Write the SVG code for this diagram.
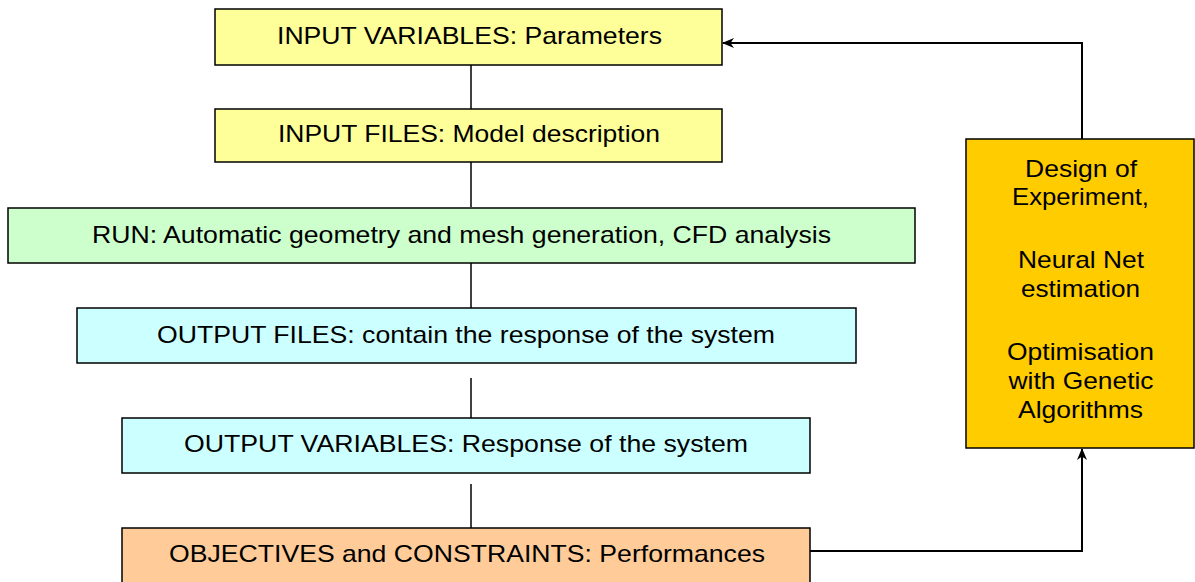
<svg xmlns="http://www.w3.org/2000/svg" width="1195" height="582" viewBox="0 0 1195 582">
  <style>
    .box { stroke: #000; stroke-width: 1.5; }
    .lbl { font-family: "Liberation Sans", Arial, sans-serif; font-size: 24px; fill: #000; text-anchor: middle; }
    .link { stroke: #000; stroke-width: 1.5; fill: none; }
    .feed { stroke: #000; stroke-width: 2; fill: none; }
  </style>
  <defs>
    <marker id="arrow" viewBox="0 0 12 10" refX="11" refY="5" markerWidth="12" markerHeight="10" markerUnits="userSpaceOnUse" orient="auto">
      <path d="M0,0 L12,5 L0,10 L3.5,5 z" fill="#000"/>
    </marker>
  </defs>
  <rect width="1195" height="582" fill="#fff"/>

  <!-- connectors -->
  <g id="connectors">
    <line class="link" x1="471" y1="65" x2="471" y2="110"/>
    <line class="link" x1="471" y1="162" x2="471" y2="207"/>
    <line class="link" x1="471" y1="263" x2="471" y2="308"/>
    <line class="link" x1="471" y1="378" x2="471" y2="418"/>
    <line class="link" x1="471" y1="484" x2="471" y2="528"/>
    <polyline class="feed" points="810,551 1082,551 1082,449" marker-end="url(#arrow)"/>
    <polyline class="feed" points="1082,139 1082,43 723,43" marker-end="url(#arrow)"/>
  </g>

  <g id="input-variables">
    <rect class="box" x="215" y="9" width="507" height="56" fill="#FFFF99"/>
    <text class="lbl" x="469.5" y="44" textLength="385" lengthAdjust="spacingAndGlyphs">INPUT VARIABLES: Parameters</text>
  </g>
  <g id="input-files">
    <rect class="box" x="215" y="109" width="507" height="53" fill="#FFFF99"/>
    <text class="lbl" x="469" y="142" textLength="382" lengthAdjust="spacingAndGlyphs">INPUT FILES: Model description</text>
  </g>
  <g id="run">
    <rect class="box" x="8" y="208" width="907" height="55" fill="#CCFFCC"/>
    <text class="lbl" x="461.5" y="243" textLength="739" lengthAdjust="spacingAndGlyphs">RUN: Automatic geometry and mesh generation, CFD analysis</text>
  </g>
  <g id="output-files">
    <rect class="box" x="77" y="308" width="779" height="55" fill="#CCFFFF"/>
    <text class="lbl" x="466" y="343" textLength="618" lengthAdjust="spacingAndGlyphs">OUTPUT FILES: contain the response of the system</text>
  </g>
  <g id="output-variables">
    <rect class="box" x="122" y="418" width="688" height="55" fill="#CCFFFF"/>
    <text class="lbl" x="466" y="452" textLength="564" lengthAdjust="spacingAndGlyphs">OUTPUT VARIABLES: Response of the system</text>
  </g>
  <g id="objectives">
    <rect class="box" x="122" y="528" width="688" height="60" fill="#FFCC99"/>
    <text class="lbl" x="467" y="562" textLength="596" lengthAdjust="spacingAndGlyphs">OBJECTIVES and CONSTRAINTS: Performances</text>
  </g>
  <g id="optimiser">
    <rect class="box" x="966" y="139" width="228" height="309" fill="#FFCC00"/>
    <text class="lbl" x="1081" y="177" textLength="112" lengthAdjust="spacingAndGlyphs">Design of</text>
    <text class="lbl" x="1080.5" y="205" textLength="137" lengthAdjust="spacingAndGlyphs">Experiment,</text>
    <text class="lbl" x="1081" y="268" textLength="126" lengthAdjust="spacingAndGlyphs">Neural Net</text>
    <text class="lbl" x="1080.5" y="297" textLength="119" lengthAdjust="spacingAndGlyphs">estimation</text>
    <text class="lbl" x="1080.5" y="360" textLength="147" lengthAdjust="spacingAndGlyphs">Optimisation</text>
    <text class="lbl" x="1081" y="389" textLength="145" lengthAdjust="spacingAndGlyphs">with Genetic</text>
    <text class="lbl" x="1080.5" y="418" textLength="125" lengthAdjust="spacingAndGlyphs">Algorithms</text>
  </g>
</svg>
